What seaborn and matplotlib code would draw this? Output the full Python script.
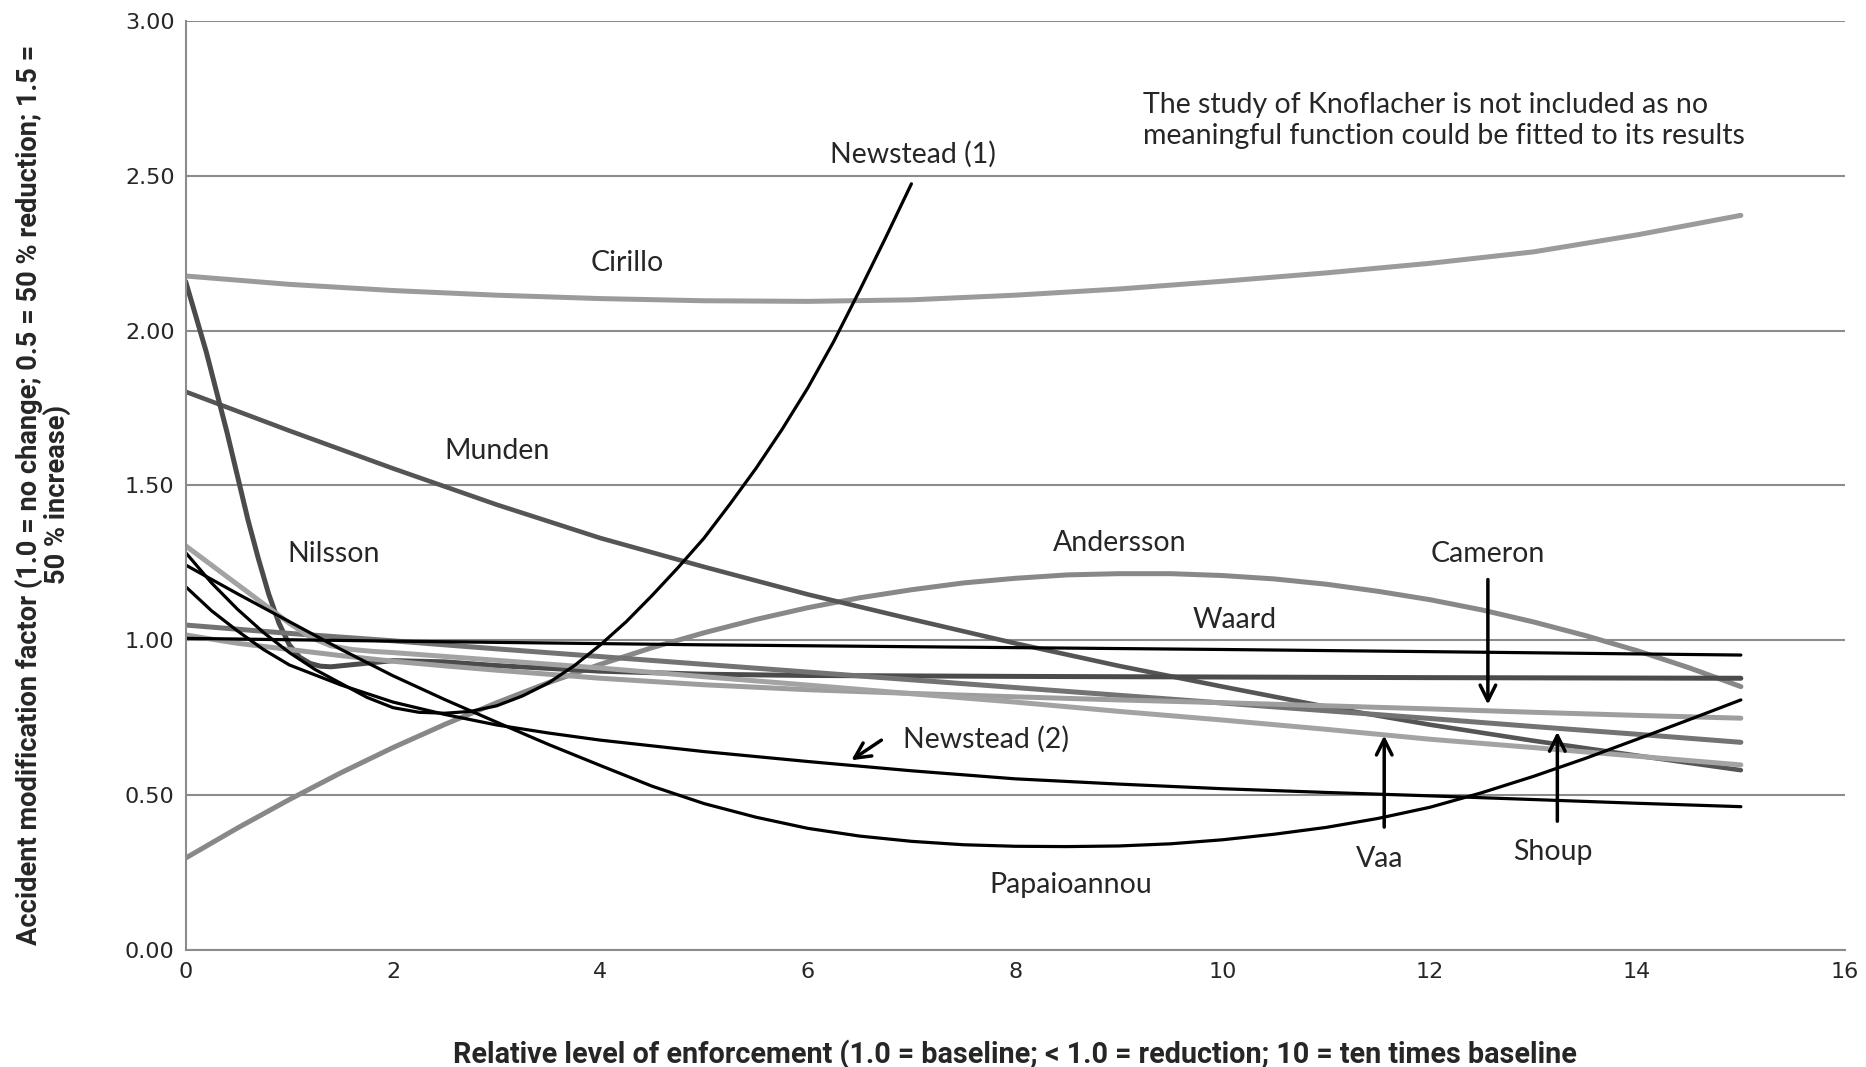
import numpy as np
import pandas as pd
import matplotlib
matplotlib.use("Agg")
import matplotlib.pyplot as plt
import seaborn as sns

sns.set_style("white")
plt.rcParams['font.family'] = ['DejaVu Sans']

# --- curves (x = relative enforcement, y = AMF) ---
x_cirillo = [0, 1, 2, 3, 4, 5, 6, 7, 8, 9, 10, 11, 12, 13, 14, 15]
y_cirillo = [2.177, 2.150, 2.130, 2.115, 2.104, 2.097, 2.095, 2.100, 2.115, 2.135,
             2.160, 2.187, 2.218, 2.255, 2.310, 2.373]

x_newstead1 = [0, 0.25, 0.5, 0.75, 1.0, 1.25, 1.5, 1.75, 2.0, 2.25, 2.5, 2.75, 3.0,
               3.25, 3.5, 3.75, 4.0, 4.25, 4.5, 4.75, 5.0, 5.25, 5.5, 5.75, 6.0,
               6.25, 6.5, 6.75, 7.0]
y_newstead1 = [1.283, 1.185, 1.100, 1.025, 0.960, 0.905, 0.860, 0.815, 0.782, 0.767,
               0.764, 0.770, 0.788, 0.820, 0.862, 0.918, 0.985, 1.060, 1.145, 1.235,
               1.330, 1.440, 1.555, 1.680, 1.815, 1.965, 2.130, 2.300, 2.475]

x_munden = [0, 1, 2, 3, 4, 5, 6, 7, 8, 9, 10, 11, 12, 13, 14, 15]
y_munden = [1.803, 1.677, 1.555, 1.438, 1.330, 1.237, 1.148, 1.068, 0.990, 0.917,
            0.850, 0.785, 0.727, 0.675, 0.627, 0.580]

x_nilsson = [0, 0.1, 0.2, 0.3, 0.4, 0.5, 0.6, 0.7, 0.8, 0.9, 1.0, 1.1, 1.2, 1.3, 1.4,
             1.7, 2.0, 2.5, 3, 4, 5, 6, 8, 10, 12, 15]
y_nilsson = [2.159, 2.045, 1.930, 1.800, 1.670, 1.530, 1.390, 1.265, 1.150, 1.055,
             0.985, 0.945, 0.925, 0.916, 0.914, 0.924, 0.934, 0.930, 0.918, 0.900,
             0.890, 0.886, 0.883, 0.881, 0.879, 0.877]

x_andersson = [0, 0.5, 1, 1.5, 2, 2.5, 3, 3.5, 4, 4.5, 5, 5.5, 6, 6.5, 7, 7.5, 8,
               8.5, 9, 9.5, 10, 10.5, 11, 11.5, 12, 12.5, 13, 13.5, 14, 14.5, 15]
y_andersson = [0.296, 0.393, 0.485, 0.572, 0.653, 0.728, 0.798, 0.863, 0.922, 0.976,
               1.024, 1.067, 1.105, 1.137, 1.163, 1.185, 1.200, 1.211, 1.215, 1.215,
               1.209, 1.198, 1.181, 1.158, 1.131, 1.098, 1.059, 1.015, 0.966, 0.911,
               0.850]

x_waard = [0, 2, 5, 7, 10, 12, 15]
y_waard = [1.006, 0.997, 0.985, 0.979, 0.970, 0.963, 0.952]

x_cameron = [0, 0.5, 1, 1.5, 2, 2.5, 3, 4, 5, 6, 7, 8, 9, 10, 11, 12, 13, 14, 15]
y_cameron = [1.017, 0.990, 0.970, 0.950, 0.932, 0.917, 0.903, 0.877, 0.856, 0.840,
             0.828, 0.817, 0.807, 0.798, 0.788, 0.778, 0.767, 0.757, 0.748]

x_shoup = [0, 1, 2, 3, 4, 5, 6, 7, 8, 9, 10, 11, 12, 13, 14, 15]
y_shoup = [1.049, 1.022, 0.998, 0.972, 0.947, 0.922, 0.897, 0.872, 0.847, 0.822,
           0.797, 0.772, 0.747, 0.721, 0.696, 0.670]

x_vaa = [0, 0.5, 1, 1.2, 1.4, 1.6, 1.8, 2, 3, 4, 5, 6, 7, 8, 9, 10, 11, 12, 13, 14, 15]
y_vaa = [1.305, 1.180, 1.055, 1.010, 0.982, 0.970, 0.964, 0.960, 0.935, 0.910, 0.882,
         0.855, 0.827, 0.800, 0.770, 0.742, 0.712, 0.680, 0.653, 0.625, 0.597]

x_newstead2 = [0, 0.25, 0.5, 0.75, 1, 1.5, 2, 2.5, 3, 3.5, 4, 5, 6, 7, 8, 9, 10, 11,
               12, 13, 14, 15]
y_newstead2 = [1.173, 1.095, 1.030, 0.970, 0.920, 0.855, 0.800, 0.760, 0.726, 0.700,
               0.677, 0.640, 0.608, 0.578, 0.552, 0.535, 0.520, 0.508, 0.497, 0.485,
               0.473, 0.462]

x_papaioannou = [0, 0.5, 1, 1.5, 2, 2.5, 3, 3.5, 4, 4.5, 5, 5.5, 6, 6.5, 7, 7.5, 8,
                 8.5, 9, 9.5, 10, 10.5, 11, 11.5, 12, 12.5, 13, 13.5, 14, 14.5, 15]
y_papaioannou = [1.243, 1.150, 1.060, 0.970, 0.885, 0.808, 0.735, 0.663, 0.595, 0.528,
                 0.472, 0.428, 0.392, 0.367, 0.350, 0.339, 0.334, 0.333, 0.335, 0.342,
                 0.355, 0.373, 0.395, 0.424, 0.460, 0.507, 0.560, 0.618, 0.680, 0.743,
                 0.807]

# (x, y, colour, width) -- grey curves first, black curves on top
series = [
    (x_cirillo, y_cirillo, '#9b9b9b', 3.6),
    (x_andersson, y_andersson, '#888888', 3.6),
    (x_munden, y_munden, '#555555', 3.3),
    (x_nilsson, y_nilsson, '#4b4b4b', 3.6),
    (x_shoup, y_shoup, '#737373', 3.6),
    (x_cameron, y_cameron, '#9e9e9e', 3.6),
    (x_vaa, y_vaa, '#a3a3a3', 3.6),
    (x_waard, y_waard, 'black', 2.3),
    (x_newstead2, y_newstead2, 'black', 2.3),
    (x_papaioannou, y_papaioannou, 'black', 2.3),
    (x_newstead1, y_newstead1, 'black', 2.3),
]

fig = plt.figure(figsize=(18.66, 10.67), dpi=100)
ax = fig.add_axes([0.0995, 0.11, 0.889, 0.87])

for xs, ys, col, lw in series:
    sns.lineplot(x=xs, y=ys, ax=ax, color=col, linewidth=lw, estimator=None,
                 sort=False, solid_joinstyle='round', solid_capstyle='round')

ax.set_xlim(0, 16)
ax.set_ylim(0, 3)
ax.set_xticks(np.arange(0, 17, 2))
ax.set_yticks(np.arange(0, 3.01, 0.5))
ax.set_yticklabels([f"{v:.2f}" for v in np.arange(0, 3.01, 0.5)])
ax.yaxis.grid(True, color='#8c8c8c', linewidth=1.5)
ax.xaxis.grid(False)
ax.set_axisbelow(True)
for s in ['top', 'right']:
    ax.spines[s].set_visible(False)
for s in ['left', 'bottom']:
    ax.spines[s].set_color('#8c8c8c')
    ax.spines[s].set_linewidth(1.5)
ax.tick_params(axis='both', direction='out', length=7, width=1.5, color='#8c8c8c',
               labelsize=16)
ax.tick_params(axis='y', pad=1)
ax.tick_params(axis='x', pad=2)

label_font = dict(family=['Roboto', 'DejaVu Sans'], fontweight='bold')
ax.set_xlabel("Relative level of enforcement (1.0 = baseline; < 1.0 = reduction; 10 = ten times baseline",
              fontsize=20.7, **label_font)
ax.set_ylabel("Accident modification factor (1.0 = no change; 0.5 = 50 % reduction; 1.5 =\n50 % increase)",
              fontsize=19.6, linespacing=1.0, **label_font)
ax.xaxis.set_label_coords(0.5, -0.097)
ax.yaxis.set_label_coords(-0.069, 0.49)

txt = dict(family=['Lato', 'DejaVu Sans'], fontsize=20.5, ha='center', va='center')
names = ["Newstead (1)", "Cirillo", "Munden", "Nilsson", "Andersson", "Cameron",
         "Waard", "Newstead (2)", "Vaa", "Shoup", "Papaioannou"]
name_x = [7.01, 4.26, 3.0, 1.43, 9.01, 12.56, 10.12, 7.72, 11.52, 13.19, 8.54]
name_y = [2.57, 2.22, 1.61, 1.277, 1.315, 1.277, 1.065, 0.68, 0.292, 0.315, 0.208]
for n, tx, ty in zip(names, name_x, name_y):
    ax.text(tx, ty, n, **txt)

ax.text(9.23, 2.68, "The study of Knoflacher is not included as no\nmeaningful function could be fitted to its results",
        family=['Lato', 'DejaVu Sans'], fontsize=20.5, ha='left', va='center',
        linespacing=1.25)

arrow = dict(arrowstyle='->', color='black', lw=2.5, mutation_scale=28,
             shrinkA=0, shrinkB=0)
arrow_from = [(12.56, 1.196), (11.56, 0.396), (13.23, 0.415), (6.71, 0.677)]
arrow_to = [(12.56, 0.792), (11.56, 0.692), (13.23, 0.704), (6.42, 0.612)]
for a, b in zip(arrow_from, arrow_to):
    ax.annotate("", xy=b, xytext=a, arrowprops=arrow)

fig.savefig("out.png", dpi=100, facecolor='white')
